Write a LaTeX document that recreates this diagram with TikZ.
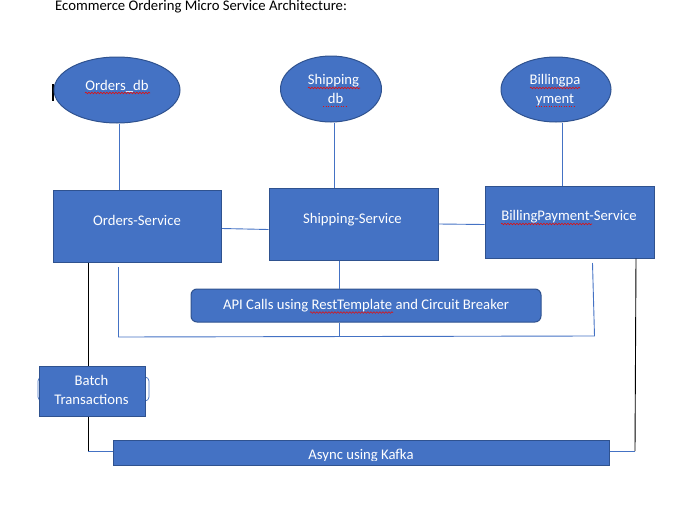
\documentclass[tikz,border=0pt]{standalone}
\usepackage{fontspec}
\setmainfont{Carlito}
\usetikzlibrary{shapes.geometric,decorations.pathmorphing}
\definecolor{fillb}{HTML}{4472C4}
\definecolor{edgeb}{HTML}{2F528F}
\definecolor{squigred}{HTML}{E01010}
\begin{document}
\begin{tikzpicture}[x=1pt,y=-1pt,
 every node/.style={font=\fontsize{14.7}{19}\selectfont},
 box/.style={draw=edgeb,fill=fillb,line width=1pt,inner sep=0pt,rectangle},
 dbshape/.style={draw=edgeb,fill=fillb,line width=1pt,inner sep=0pt,ellipse},
 lbl/.style={text=white,anchor=base,inner sep=0pt},
 wire/.style={draw=fillb,line width=0.9pt},
 bwire/.style={draw=black,line width=0.9pt},
 squig/.style={draw=squigred,line width=0.6pt,decorate,decoration={snake,segment length=3pt,amplitude=0.8pt}},
 dotsq/.style={draw=squigred,line width=0.8pt,dash pattern=on 1pt off 1.5pt}]
\useasboundingbox (0,0) rectangle (673,517);

% title
\node[anchor=base west,inner sep=0pt] (title) at (55,10) {Ecommerce Ordering Micro Service Architecture:};

% small cursor mark
\draw[black,line width=1.4pt] (53,84) -- (53,101);

% databases
\node[dbshape,minimum width=126,minimum height=66] (odb) at (117,90) {};
\node[dbshape,minimum width=101,minimum height=66] (sdb) at (331,89) {};
\node[dbshape,minimum width=110,minimum height=65] (bdb) at (556,89.5) {};

% services
\node[box,minimum width=168,minimum height=72] (os) at (137.5,226) {};
\node[box,minimum width=169,minimum height=72] (ss) at (353.5,224) {};
\node[box,minimum width=169,minimum height=72] (bs) at (569.5,222) {};

% other boxes
\draw[draw=fillb,line width=0.7pt,rounded corners=4] (38,377) rectangle (149,401);
\node[box,minimum width=106,minimum height=50] (batch) at (92,391) {};
\node[box,rounded corners=6,minimum width=350,minimum height=33] (api) at (366,305.5) {};
\node[box,minimum width=496,minimum height=25] (kafka) at (361,452.5) {};

% labels
\node[lbl] (odbT) at (117,90) {Orders\_db};
\node[lbl] (sdbT1) at (333.5,84) {Shipping};
\node[lbl] (sdbT2) at (334,103) {\ db};
\node[lbl] (bdbT1) at (555,84) {Billingpa};
\node[lbl] (bdbT2) at (555,103) {yment};
\node[lbl] (osT) at (137,225.3) {Orders-Service};
\node[lbl] (ssT) at (352.5,223.3) {Shipping-Service};
\node[lbl] (bsT) at (569,220.7) {BillingPayment-Service};
\node[lbl] (apiT) at (366,309) {API Calls using RestTemplate and Circuit Breaker};
\node[lbl] (batchT1) at (91.5,385) {Batch};
\node[lbl] (batchT2) at (91.5,404) {Transactions};
\begin{scope}
\clip (113,440) rectangle (609,460);
\node[lbl] (kafkaT) at (361,459.8) {Async using Kafka};
\end{scope}

% spell-check marks
\draw[squig] (85,93) -- (150,93);
\draw[squig] (308,88) -- (360,88);
\draw[dotsq] (323,106.5) -- (346,106.5);
\draw[squig] (530,88) -- (580,88);
\draw[dotsq] (536,106.5) -- (574,106.5);
\draw[squig] (310,312.5) -- (393,312.5);
\draw[squig] (501,224) -- (592,224);

% db to service connectors
\draw[wire] (odb.south -| 119,0) -- (os.north -| 119,0);
\draw[wire] (sdb.south -| 334,0) -- (ss.north -| 334,0);
\draw[wire] (bdb.south -| 562.5,0) -- (bs.north -| 562.5,0);

% service to service
\draw[wire] (os.east |- 0,228.5) -- (ss.west |- 0,229.5);
\draw[wire] (ss.east |- 0,224) -- (bs.west |- 0,224.5);

% API loop
\coordinate (lpA) at (118.5,267);
\coordinate (lpB) at (118.5,337);
\coordinate (lpC) at (594.5,336);
\coordinate (lpD) at (592.5,263);
\coordinate (lpM) at (339,337);
\draw[wire] (lpA) -- (lpB) -- (lpC) -- (lpD);
\draw[wire] (ss.south -| 339,0) -- (api.north -| 339,0);
\draw[wire] (api.south -| 339,0) -- (lpM);

% batch / kafka connectors
\coordinate (bkL) at (88,451);
\coordinate (bkR) at (635,451);
\draw[bwire] (os.south -| 88.5,0) -- (batch.north -| 88.5,0);
\draw[bwire] (batch.south -| 88,0) -- (bkL);
\draw[wire] (bkL) -- (kafka.west |- bkL);
\draw[bwire] (bs.south -| 636,0) -- (bkR);
\draw[wire] (bkR) -- (kafka.east |- bkR);
\end{tikzpicture}
\end{document}
